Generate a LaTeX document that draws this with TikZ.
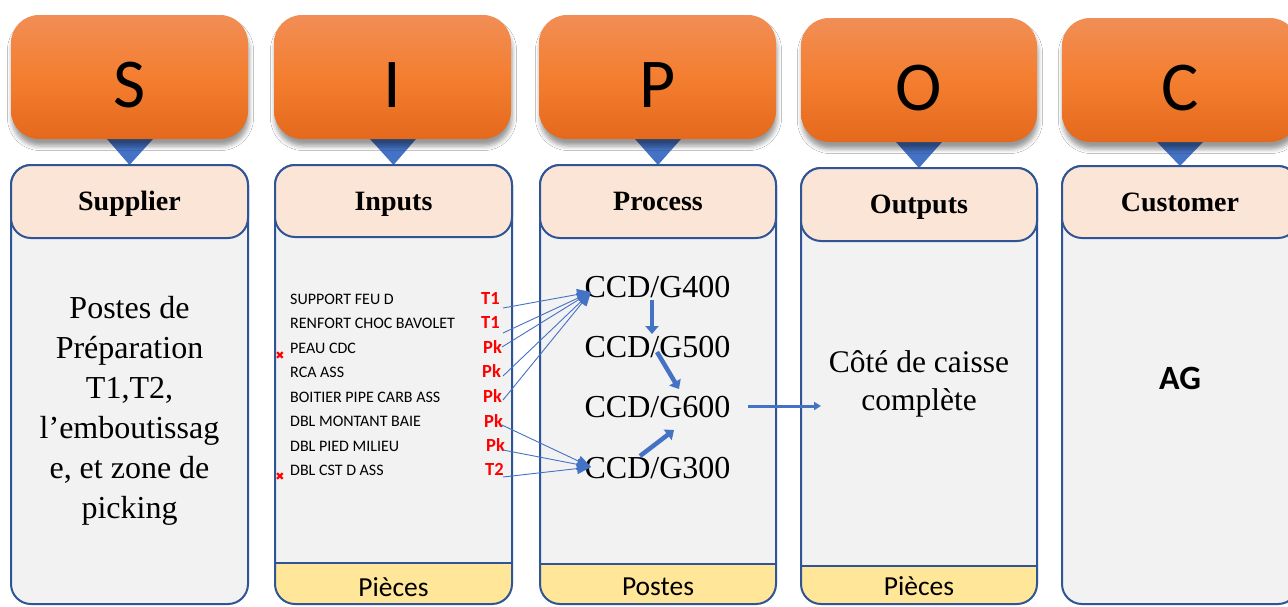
\documentclass[tikz,border=0pt]{standalone}
\usepackage{fontspec}
\setmainfont{Liberation Serif}
\newfontfamily\calfont{Carlito}
\newfontfamily\dejafont{DejaVu Sans}
\usetikzlibrary{arrows.meta,shadows.blur}
\definecolor{bord}{HTML}{2F5597}
\definecolor{peach}{HTML}{FBE5D6}
\definecolor{bodyg}{HTML}{F2F2F2}
\definecolor{footy}{HTML}{FFE699}
\definecolor{triblue}{HTML}{4472C4}
\definecolor{orT}{HTML}{F18E56}
\definecolor{orM}{HTML}{F47E30}
\definecolor{orB}{HTML}{E4691D}
\definecolor{redlab}{HTML}{FF0000}
\tikzset{
  obox/.style={rounded corners=28pt, top color=orT, bottom color=orB, middle color=orM,
    blur shadow={shadow xshift=1pt, shadow yshift=-7pt, shadow blur radius=4.5pt, shadow opacity=40},
    minimum width=237pt, minimum height=124pt, inner sep=0pt, text height=60pt, text depth=0pt,
    font=\calfont\fontsize{70}{70}\selectfont},
  hbox/.style={rounded corners=20pt, fill=peach, draw=bord, line width=2pt,
    minimum width=237pt, minimum height=73pt, inner sep=0pt, text height=19.6pt, text depth=1.4pt,
    font=\fontsize{28}{28}\selectfont\bfseries},
  bodybox/.style={rounded corners=20pt, fill=bodyg},
  bodyline/.style={rounded corners=20pt, draw=bord, line width=2pt},
  footline/.style={draw=bord, line width=2pt},
  tri/.style={fill=triblue},
  item/.style={inner sep=0pt, anchor=west, text height=10.3pt, text depth=0pt,
    font=\calfont\fontsize{16}{16}\selectfont},
  tag/.style={inner sep=0pt, anchor=west, text height=11.5pt, text depth=0pt, text=redlab,
    font=\calfont\bfseries\fontsize{18.5}{18.5}\selectfont},
  xmark/.style={inner sep=0pt, text=redlab, font=\dejafont\fontsize{11}{11}\selectfont},
  ccd/.style={inner sep=0pt, text height=21pt, text depth=0pt, font=\fontsize{32}{32}\selectfont},
  foot/.style={inner sep=0pt, text height=18pt, text depth=0pt, font=\calfont\fontsize{27.5}{27.5}\selectfont},
  thinarrow/.style={draw=triblue, line width=0.9pt, -{Triangle[length=14pt,width=11pt]}},
  thickarrow/.style={draw=triblue, line width=4.5pt, -{Triangle[length=8pt,width=13pt]}},
  outarrow/.style={draw=triblue, line width=3pt, -{Triangle[length=7pt,width=8pt]}},
}
\begin{document}
\begin{tikzpicture}[x=1pt,y=-1pt]
\useasboundingbox (0,0) rectangle (1288,606);
\fill[white] (0,0) rectangle (1288,606);

% ---------- body boxes ----------
\path[bodybox] (11,165) rectangle (248,604);
\path[bodybox] (275,165) rectangle (512,604);
\path[bodybox] (540,165) rectangle (776,604);
\path[bodybox] (801,168) rectangle (1037,604);
\path[bodybox] (1062,166) rectangle (1298,604);

% footers
\begin{scope}
  \clip[rounded corners=20pt] (275,165) rectangle (512,604);
  \fill[footy] (275,563) rectangle (512,606);
\end{scope}
\begin{scope}
  \clip[rounded corners=20pt] (540,165) rectangle (776,604);
  \fill[footy] (540,564) rectangle (776,606);
\end{scope}
\begin{scope}
  \clip[rounded corners=20pt] (801,168) rectangle (1037,604);
  \fill[footy] (801,566) rectangle (1037,606);
\end{scope}
\draw[footline] (275,563) -- (512,563);
\draw[footline] (540,564) -- (776,564);
\draw[footline] (801,566) -- (1037,566);

\path[bodyline] (11,165) rectangle (248,604);
\path[bodyline] (275,165) rectangle (512,604);
\path[bodyline] (540,165) rectangle (776,604);
\path[bodyline] (801,168) rectangle (1037,604);
\path[bodyline] (1062,166) rectangle (1298,604);

% ---------- triangles ----------
\fill[tri] (107,139) -- (153,139) -- (129.5,165) -- cycle;
\fill[tri] (370,139) -- (416,139) -- (393.5,165) -- cycle;
\fill[tri] (635,139) -- (681,139) -- (658,165) -- cycle;
\fill[tri] (896,142) -- (942,142) -- (919,168) -- cycle;
\fill[tri] (1157,142) -- (1203,142) -- (1180,166) -- cycle;

% ---------- letter boxes ----------
\node[obox] (S) at (129.5,77) {S};
\node[obox] (I) at (392.5,77) {I};
\node[obox] (P) at (657.5,77) {P};
\node[obox, minimum width=236pt] (O) at (919,80) {O};
\node[obox, minimum width=236pt] (C) at (1180,80) {C};

% ---------- headers ----------
\node[hbox] (hS) at (129.5,201.5) {Supplier};
\node[hbox, minimum height=72pt] (hI) at (393.5,201) {Inputs};
\node[hbox, minimum width=236pt] (hP) at (658,201.5) {Process};
\node[hbox, minimum width=236pt] (hO) at (919,204.5) {Outputs};
\node[hbox, minimum width=236pt, minimum height=72pt] (hC) at (1180,202) {Customer};

% ---------- supplier text ----------
\node[inner sep=0pt, align=center, font=\fontsize{32}{40}\selectfont] (sup) at (129.5,411)
  {Postes de\\Préparation\\T1,T2,\\l’emboutissag\\e, et zone de\\picking};

% ---------- inputs list ----------
\node[item] (i1) at (290,299) {SUPPORT FEU D};
\node[item] (i2) at (290,323.5) {RENFORT CHOC BAVOLET};
\node[item] (i3) at (290,348) {PEAU CDC};
\node[item] (i4) at (290,372.5) {RCA ASS};
\node[item] (i5) at (290,397) {BOITIER PIPE CARB ASS};
\node[item] (i6) at (290,421.5) {DBL MONTANT BAIE};
\node[item] (i7) at (290,446) {DBL PIED MILIEU};
\node[item] (i8) at (290,470.5) {DBL CST D ASS};

\node[tag] (t1) at (481,299) {T1};
\node[tag] (t2) at (481,323) {T1};
\node[tag] (t3) at (483,348) {Pk};
\node[tag] (t4) at (482,372) {Pk};
\node[tag] (t5) at (483,397) {Pk};
\node[tag] (t6) at (484,422) {Pk};
\node[tag] (t7) at (486,446) {Pk};
\node[tag] (t8) at (485,470) {T2};

\node[xmark] (x1) at (280,356) {✖};
\node[xmark] (x2) at (280,477) {✖};

% ---------- process ----------
\node[ccd] (g400) at (657.5,287) {CCD/G400};
\node[ccd] (g500) at (657.5,347) {CCD/G500};
\node[ccd] (g600) at (657.5,407) {CCD/G600};
\node[ccd] (g300) at (657.5,468) {CCD/G300};

% ---------- outputs / customer ----------
\node[inner sep=0pt, align=center, font=\fontsize{31.5}{38}\selectfont] (out) at (919,384)
  {Côté de caisse\\complète};
\node[inner sep=0pt, font=\calfont\bfseries\fontsize{34}{34}\selectfont] (ag) at (1180,378.5) {AG};

% ---------- footers text ----------
\node[foot] (fI) at (393.5,587) {Pièces};
\node[foot] (fP) at (658,586) {Postes};
\node[foot] (fO) at (919,586.5) {Pièces};

% ---------- connectors ----------
\coordinate (c1) at (503,308);
\coordinate (c2) at (503,333);
\coordinate (c3) at (502,347);
\coordinate (c4) at (503,376);
\coordinate (c5) at (503,400);
\coordinate (c6) at (502,425);
\coordinate (c7) at (503,450);
\coordinate (c8) at (503,477);
\coordinate (g400in) at (591,292);
\coordinate (g300in) at (591,467);
\foreach \c in {c1,c2,c3,c4,c5} \draw[thinarrow] (\c) -- (g400in);
\foreach \c in {c6,c7,c8} \draw[thinarrow] (\c) -- (g300in);

\coordinate (a1) at (652,300);
\coordinate (a2) at (652,334);
\coordinate (b1) at (657,352);
\coordinate (b2) at (679,389);
\coordinate (d1) at (640,456);
\coordinate (d2) at (674,430);
\coordinate (e1) at (748,406);
\coordinate (e2) at (821,406);
\draw[thickarrow] (a1) -- (a2);
\draw[thickarrow] (b1) -- (b2);
\draw[thickarrow] (d1) -- (d2);
\draw[outarrow] (e1) -- (e2);
\end{tikzpicture}
\end{document}
